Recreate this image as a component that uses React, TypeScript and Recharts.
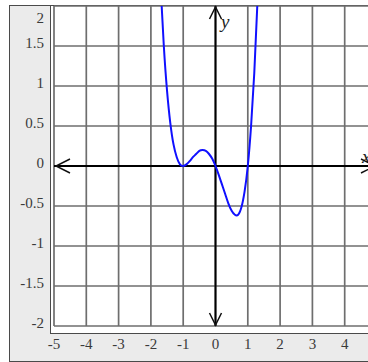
import React from 'react'
import { LineChart, Line, XAxis, YAxis, CartesianGrid, ReferenceLine, ReferenceDot } from 'recharts'

// curve points
const xs = [-1.7, -1.6, -1.5, -1.4, -1.3, -1.2, -1.1, -1.0, -0.9, -0.8, -0.7, -0.6, -0.5, -0.4, -0.3, -0.2, -0.1, 0, 0.1, 0.2, 0.3, 0.4, 0.5, 0.6, 0.7, 0.8, 0.9, 1.0, 1.1, 1.2, 1.3, 1.4]
const ys = [2.25, 1.5, 0.94, 0.54, 0.27, 0.11, 0.02, 0, 0.02, 0.06, 0.11, 0.15, 0.19, 0.2, 0.19, 0.15, 0.09, 0, -0.11, -0.23, -0.35, -0.47, -0.56, -0.61, -0.61, -0.52, -0.32, 0, 0.49, 1.16, 2.06, 3.23]

const xTicks = [-5, -4, -3, -2, -1, 0, 1, 2, 3, 4, 5]
const yTicks = [-2, -1.5, -1, -0.5, 0, 0.5, 1, 1.5, 2]

const data = xs.map((x, i) => ({ x, y: ys[i] }))

const SERIF = '"Liberation Serif", "DejaVu Serif", serif'
const LABEL = '#3a3a3a'

const XTick = ({ x, payload }: any) => (
  <text x={x} y={344} textAnchor="middle" dominantBaseline="central" fontSize={15} fontFamily={SERIF} fill={LABEL}>
    {payload.value}
  </text>
)

const YTick = ({ y, payload }: any) => (
  <text x={44} y={payload.value === 2 ? 18 : y - 3} textAnchor="end" dominantBaseline="central" fontSize={15} fontFamily={SERIF} fill={LABEL}>
    {payload.value}
  </text>
)

const arrow = (dir: 'left' | 'right' | 'up' | 'down') => ({ cx, cy }: any) => {
  let d = ''
  if (dir === 'left') d = `M${cx + 16},${cy - 7} L${cx + 2},${cy} L${cx + 16},${cy + 7}`
  if (dir === 'right') d = `M${cx - 16},${cy - 7} L${cx - 2},${cy} L${cx - 16},${cy + 7}`
  if (dir === 'up') d = `M${cx - 6},${cy + 13} L${cx},${cy + 1} L${cx + 6},${cy + 13}`
  if (dir === 'down') d = `M${cx - 6},${cy - 13} L${cx},${cy - 1} L${cx + 6},${cy - 13}`
  return <path d={d} fill="none" stroke="#111" strokeWidth={1.5} />
}

export default function App() {
  return (
    <div style={{ position: 'absolute', left: 0, top: 0, width: 368, height: 362, overflow: 'hidden', background: '#fff' }}>
      <div style={{ position: 'absolute', left: 9, top: 5, width: 420, height: 357, boxSizing: 'border-box', border: '1.5px solid #4a4a4a', background: '#ebebeb' }} />
      <div style={{ position: 'absolute', left: 50, top: 5, width: 420, height: 329, boxSizing: 'border-box', border: '1.5px solid #4a4a4a', background: '#fff' }} />
      <div style={{ position: 'absolute', left: 0, top: 0 }}>
        <LineChart width={400} height={362} data={data} margin={{ top: 6, right: 23, left: 10, bottom: 6 }}>
          <CartesianGrid stroke="#6e6e6e" strokeWidth={1.7} />
          <XAxis type="number" dataKey="x" domain={[-5, 5]} ticks={xTicks} allowDataOverflow
            axisLine={false} tickLine={false} height={30} tick={<XTick />} interval={0} />
          <YAxis type="number" domain={[-2, 2]} ticks={yTicks} allowDataOverflow
            axisLine={false} tickLine={false} width={44} tick={<YTick />} interval={0} />
          <ReferenceLine x={0} stroke="#000" strokeWidth={2} />
          <ReferenceLine y={0} stroke="#000" strokeWidth={2} />
          <ReferenceDot x={-5} y={0} ifOverflow="visible" shape={arrow('left')} />
          <ReferenceDot x={5} y={0} ifOverflow="visible" shape={arrow('right')} />
          <ReferenceDot x={0} y={2} ifOverflow="visible" shape={arrow('up')} />
          <ReferenceDot x={0} y={-2} ifOverflow="visible" shape={arrow('down')} />
          <Line type="natural" dataKey="y" stroke="#1010ff" strokeWidth={2} dot={false} isAnimationActive={false} />
          <text x={221} y={28} fontSize={19} fontStyle="italic" fontFamily={SERIF} fill="#222">y</text>
          <text x={362} y={163} fontSize={19} fontStyle="italic" fontFamily={SERIF} fill="#222">x</text>
        </LineChart>
      </div>
    </div>
  )
}
